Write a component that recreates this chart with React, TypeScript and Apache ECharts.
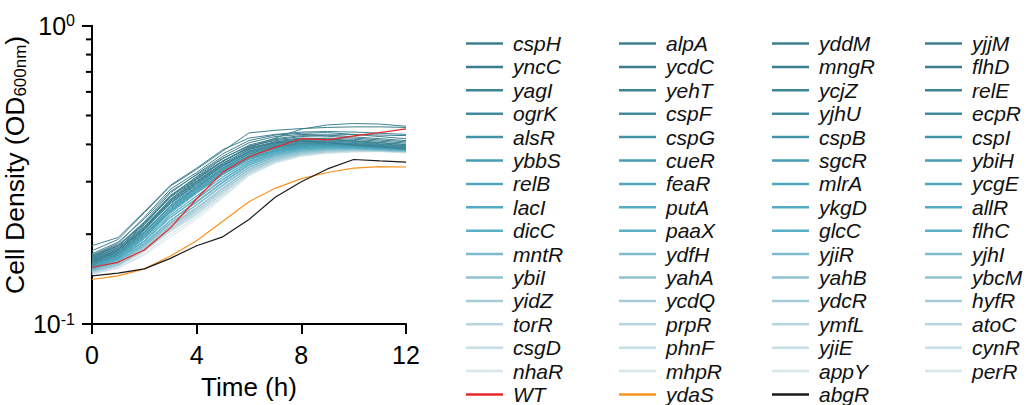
import React, { useEffect, useRef } from 'react';
import * as echarts from 'echarts';

const hours = [0, 1, 2, 3, 4, 5, 6, 7, 8, 9, 10, 11, 12];

const rowColors = [
  '#3e7f8e', '#3a7d8d', '#3d8596', '#408c9f', '#4494a8', '#489db2', '#4da6bc',
  '#50abc3', '#5cb0c6', '#7cbacc', '#90c2d1', '#a6ccd8', '#b8d6df', '#c8dee5', '#d7e6eb',
];

const col1Names = ['cspH', 'yncC', 'yagI', 'ogrK', 'alsR', 'ybbS', 'relB', 'lacI', 'dicC', 'mntR', 'ybiI', 'yidZ', 'torR', 'csgD', 'nhaR'];
const col2Names = ['alpA', 'ycdC', 'yehT', 'cspF', 'cspG', 'cueR', 'feaR', 'putA', 'paaX', 'ydfH', 'yahA', 'ycdQ', 'prpR', 'phnF', 'mhpR'];
const col3Names = ['yddM', 'mngR', 'ycjZ', 'yjhU', 'cspB', 'sgcR', 'mlrA', 'ykgD', 'glcC', 'yjiR', 'yahB', 'ydcR', 'ymfL', 'yjiE', 'appY'];
const col4Names = ['yjjM', 'flhD', 'relE', 'ecpR', 'cspI', 'ybiH', 'ycgE', 'allR', 'flhC', 'yjhI', 'ybcM', 'hyfR', 'atoC', 'cynR', 'perR'];

const col1Curves = [
  [0.170, 0.186, 0.228, 0.283, 0.322, 0.372, 0.412, 0.430, 0.436, 0.438, 0.432, 0.425, 0.418],
  [0.172, 0.188, 0.225, 0.278, 0.316, 0.360, 0.395, 0.412, 0.420, 0.418, 0.410, 0.402, 0.396],
  [0.183, 0.195, 0.238, 0.292, 0.333, 0.384, 0.420, 0.432, 0.440, 0.442, 0.440, 0.436, 0.432],
  [0.164, 0.178, 0.210, 0.258, 0.298, 0.342, 0.378, 0.398, 0.408, 0.410, 0.406, 0.400, 0.394],
  [0.161, 0.174, 0.204, 0.250, 0.290, 0.334, 0.372, 0.392, 0.402, 0.404, 0.400, 0.394, 0.388],
  [0.159, 0.171, 0.200, 0.245, 0.285, 0.328, 0.366, 0.387, 0.397, 0.400, 0.397, 0.392, 0.387],
  [0.158, 0.170, 0.198, 0.241, 0.280, 0.322, 0.361, 0.383, 0.394, 0.397, 0.395, 0.391, 0.386],
  [0.156, 0.168, 0.195, 0.237, 0.275, 0.317, 0.356, 0.379, 0.390, 0.393, 0.391, 0.387, 0.383],
  [0.155, 0.165, 0.189, 0.227, 0.263, 0.305, 0.347, 0.373, 0.387, 0.391, 0.390, 0.386, 0.382],
  [0.154, 0.163, 0.186, 0.222, 0.256, 0.298, 0.341, 0.368, 0.383, 0.388, 0.388, 0.385, 0.381],
  [0.153, 0.162, 0.183, 0.218, 0.250, 0.291, 0.335, 0.363, 0.379, 0.385, 0.386, 0.384, 0.380],
  [0.152, 0.160, 0.181, 0.214, 0.245, 0.285, 0.330, 0.359, 0.376, 0.382, 0.384, 0.382, 0.379],
  [0.151, 0.159, 0.179, 0.211, 0.240, 0.279, 0.326, 0.356, 0.373, 0.380, 0.382, 0.381, 0.378],
  [0.150, 0.158, 0.177, 0.207, 0.235, 0.274, 0.322, 0.353, 0.371, 0.378, 0.381, 0.380, 0.377],
  [0.149, 0.157, 0.175, 0.204, 0.231, 0.270, 0.318, 0.350, 0.369, 0.377, 0.380, 0.380, 0.376],
];
const col2Curves = [
  [0.176, 0.192, 0.236, 0.290, 0.330, 0.380, 0.437, 0.446, 0.452, 0.456, 0.458, 0.458, 0.456],
  [0.163, 0.178, 0.210, 0.262, 0.305, 0.350, 0.392, 0.415, 0.425, 0.430, 0.432, 0.430, 0.428],
  [0.166, 0.180, 0.212, 0.262, 0.302, 0.346, 0.384, 0.404, 0.414, 0.416, 0.412, 0.406, 0.400],
  [0.162, 0.176, 0.207, 0.254, 0.294, 0.338, 0.376, 0.396, 0.404, 0.405, 0.400, 0.395, 0.390],
  [0.166, 0.180, 0.212, 0.260, 0.300, 0.342, 0.380, 0.400, 0.410, 0.408, 0.402, 0.396, 0.390],
  [0.164, 0.177, 0.207, 0.253, 0.292, 0.334, 0.372, 0.392, 0.402, 0.403, 0.399, 0.394, 0.389],
  [0.162, 0.174, 0.203, 0.248, 0.287, 0.330, 0.368, 0.390, 0.400, 0.402, 0.399, 0.394, 0.389],
  [0.160, 0.172, 0.200, 0.243, 0.282, 0.324, 0.362, 0.384, 0.395, 0.398, 0.396, 0.391, 0.387],
  [0.158, 0.168, 0.193, 0.232, 0.268, 0.311, 0.352, 0.377, 0.390, 0.394, 0.392, 0.388, 0.384],
  [0.157, 0.166, 0.190, 0.227, 0.262, 0.303, 0.345, 0.371, 0.385, 0.390, 0.389, 0.386, 0.382],
  [0.156, 0.165, 0.187, 0.222, 0.255, 0.296, 0.339, 0.366, 0.381, 0.387, 0.387, 0.384, 0.380],
  [0.155, 0.164, 0.185, 0.219, 0.250, 0.290, 0.334, 0.362, 0.378, 0.385, 0.386, 0.384, 0.380],
  [0.154, 0.162, 0.183, 0.216, 0.246, 0.285, 0.330, 0.360, 0.376, 0.383, 0.384, 0.382, 0.379],
  [0.153, 0.161, 0.181, 0.212, 0.241, 0.280, 0.327, 0.358, 0.375, 0.382, 0.384, 0.382, 0.378],
  [0.152, 0.160, 0.179, 0.209, 0.237, 0.276, 0.324, 0.355, 0.373, 0.380, 0.383, 0.381, 0.377],
];
const col3Curves = [
  [0.165, 0.180, 0.215, 0.268, 0.312, 0.358, 0.398, 0.418, 0.428, 0.426, 0.420, 0.414, 0.408],
  [0.167, 0.182, 0.218, 0.270, 0.310, 0.352, 0.388, 0.405, 0.410, 0.406, 0.398, 0.392, 0.386],
  [0.160, 0.174, 0.206, 0.255, 0.296, 0.340, 0.380, 0.402, 0.412, 0.414, 0.410, 0.405, 0.399],
  [0.170, 0.184, 0.218, 0.268, 0.308, 0.352, 0.390, 0.408, 0.415, 0.413, 0.406, 0.398, 0.392],
  [0.157, 0.170, 0.198, 0.243, 0.283, 0.326, 0.366, 0.388, 0.398, 0.400, 0.398, 0.394, 0.390],
  [0.155, 0.167, 0.195, 0.238, 0.278, 0.320, 0.360, 0.382, 0.393, 0.396, 0.394, 0.390, 0.386],
  [0.154, 0.166, 0.193, 0.235, 0.274, 0.316, 0.356, 0.379, 0.391, 0.394, 0.393, 0.389, 0.385],
  [0.153, 0.164, 0.190, 0.231, 0.269, 0.311, 0.351, 0.375, 0.387, 0.391, 0.390, 0.387, 0.383],
  [0.152, 0.162, 0.185, 0.222, 0.257, 0.299, 0.342, 0.369, 0.383, 0.388, 0.388, 0.385, 0.381],
  [0.151, 0.160, 0.182, 0.217, 0.251, 0.292, 0.335, 0.364, 0.379, 0.385, 0.386, 0.384, 0.381],
  [0.150, 0.158, 0.179, 0.212, 0.244, 0.284, 0.329, 0.358, 0.375, 0.382, 0.384, 0.382, 0.379],
  [0.149, 0.157, 0.177, 0.208, 0.239, 0.279, 0.324, 0.354, 0.371, 0.379, 0.382, 0.381, 0.378],
  [0.148, 0.156, 0.175, 0.205, 0.234, 0.274, 0.320, 0.351, 0.369, 0.377, 0.380, 0.380, 0.377],
  [0.147, 0.154, 0.172, 0.200, 0.228, 0.268, 0.316, 0.348, 0.367, 0.375, 0.379, 0.379, 0.376],
  [0.147, 0.154, 0.170, 0.196, 0.224, 0.265, 0.314, 0.346, 0.365, 0.373, 0.377, 0.378, 0.375],
];
const col4Curves = [
  [0.168, 0.183, 0.220, 0.275, 0.318, 0.365, 0.405, 0.425, 0.432, 0.430, 0.424, 0.418, 0.412],
  [0.161, 0.176, 0.208, 0.258, 0.300, 0.345, 0.385, 0.408, 0.418, 0.420, 0.416, 0.410, 0.404],
  [0.169, 0.183, 0.216, 0.266, 0.306, 0.352, 0.392, 0.420, 0.450, 0.465, 0.470, 0.468, 0.460],
  [0.158, 0.172, 0.202, 0.248, 0.288, 0.332, 0.372, 0.394, 0.404, 0.406, 0.403, 0.398, 0.393],
  [0.163, 0.177, 0.208, 0.255, 0.295, 0.338, 0.376, 0.396, 0.405, 0.406, 0.402, 0.397, 0.392],
  [0.160, 0.173, 0.202, 0.247, 0.286, 0.329, 0.368, 0.389, 0.399, 0.401, 0.398, 0.393, 0.388],
  [0.157, 0.169, 0.197, 0.240, 0.279, 0.321, 0.360, 0.382, 0.393, 0.396, 0.394, 0.390, 0.385],
  [0.158, 0.170, 0.197, 0.239, 0.277, 0.319, 0.358, 0.381, 0.392, 0.395, 0.393, 0.389, 0.384],
  [0.156, 0.166, 0.190, 0.228, 0.264, 0.306, 0.348, 0.374, 0.388, 0.392, 0.391, 0.387, 0.383],
  [0.155, 0.164, 0.187, 0.223, 0.258, 0.299, 0.342, 0.369, 0.384, 0.389, 0.388, 0.385, 0.381],
  [0.154, 0.163, 0.184, 0.219, 0.251, 0.292, 0.336, 0.364, 0.380, 0.386, 0.386, 0.384, 0.380],
  [0.153, 0.161, 0.182, 0.215, 0.246, 0.286, 0.331, 0.360, 0.377, 0.383, 0.385, 0.383, 0.379],
  [0.152, 0.160, 0.180, 0.212, 0.242, 0.281, 0.327, 0.357, 0.374, 0.381, 0.383, 0.381, 0.378],
  [0.151, 0.159, 0.178, 0.208, 0.237, 0.276, 0.323, 0.354, 0.372, 0.379, 0.382, 0.381, 0.377],
  [0.150, 0.158, 0.176, 0.205, 0.233, 0.272, 0.320, 0.351, 0.370, 0.378, 0.381, 0.380, 0.376],
];

const wtCurve = [0.155, 0.161, 0.177, 0.210, 0.263, 0.323, 0.363, 0.391, 0.418, 0.414, 0.427, 0.438, 0.451];
const ydaSCurve = [0.141, 0.145, 0.153, 0.169, 0.190, 0.221, 0.257, 0.285, 0.307, 0.322, 0.333, 0.337, 0.336];
const abgRCurve = [0.145, 0.148, 0.153, 0.166, 0.183, 0.196, 0.224, 0.266, 0.300, 0.331, 0.356, 0.352, 0.349];

const specialNames = ['WT', 'ydaS', 'abgR'];
const specialColors = ['#e8262b', '#f7931e', '#1a1a1a'];
const minorTickValues = [0.2, 0.3, 0.4, 0.5, 0.6, 0.7, 0.8, 0.9];

const FONT = '"Liberation Sans", Arial, Helvetica, sans-serif';

export default function App() {
  const ref = useRef<HTMLDivElement>(null);
  useEffect(() => {
    if (!ref.current) return;
    const chart = echarts.init(ref.current, undefined, { renderer: 'svg' });
    const cols = [
      { names: col1Names, curves: col1Curves },
      { names: col2Names, curves: col2Curves },
      { names: col3Names, curves: col3Curves },
      { names: col4Names, curves: col4Curves },
    ];
    const series: any[] = [];
    for (let r = rowColors.length - 1; r >= 0; r--) {
      cols.forEach((c) => {
        const col = rowColors[r];
        series.push({
          name: c.names[r],
          type: 'line',
          data: hours.map((h, i) => [h, c.curves[r][i]]),
          symbol: 'none',
          color: col,
          lineStyle: { width: 1, color: col },
          silent: true,
        });
      });
    }
    const specialCurves = [wtCurve, ydaSCurve, abgRCurve];
    specialNames.forEach((n, k) => {
      series.push({
        name: n,
        type: 'line',
        data: hours.map((h, i) => [h, specialCurves[k][i]]),
        symbol: 'none',
        color: specialColors[k],
        lineStyle: { width: 1.2, color: specialColors[k] },
        silent: true,
        z: 5,
      });
    });
    const legendLefts = [466, 619, 772, 925];
    const legends = cols.map((c, i) => ({
      orient: 'vertical',
      left: legendLefts[i],
      top: 33,
      height: 400,
      padding: 0,
      itemWidth: 37,
      itemHeight: 2.5,
      itemGap: 2.4,
      icon: 'rect',
      selectedMode: false,
      textStyle: {
        fontSize: 21,
        fontStyle: 'italic',
        fontFamily: FONT,
        color: '#111',
        lineHeight: 20,
        padding: [0, 0, 0, 5],
      },
      data: i < 3 ? [...c.names, specialNames[i]] : c.names,
    }));

    chart.setOption({
      animation: false,
      backgroundColor: '#fff',
      grid: { left: 90.5, right: 624, top: 25.7, bottom: 70.3, containLabel: false },
      legend: legends,
      xAxis: {
        type: 'value',
        min: 0,
        max: 12,
        interval: 4,
        name: 'Time (h)',
        nameLocation: 'middle',
        nameGap: 50,
        nameTextStyle: { fontSize: 26, fontFamily: FONT, color: '#000' },
        axisLine: { show: true, lineStyle: { color: '#000', width: 2 } },
        axisTick: { show: true, length: 10, lineStyle: { color: '#000', width: 2 } },
        axisLabel: { fontSize: 25, fontFamily: FONT, color: '#000', margin: 18 },
        splitLine: { show: false },
      },
      yAxis: {
        type: 'log',
        logBase: 10,
        min: 0.1,
        max: 1,
        name: '{n|Cell Density (OD}{s|600nm}{n|)}',
        nameLocation: 'middle',
        nameRotate: 90,
        nameGap: 52,
        nameTextStyle: {
          padding: [0, 0, 0, 20],
          rich: {
            n: { fontSize: 26.5, fontFamily: FONT, color: '#000', lineHeight: 29 },
            s: { fontSize: 17, fontFamily: FONT, color: '#000', verticalAlign: 'bottom', lineHeight: 23 },
          },
        },
        axisLine: { show: true, lineStyle: { color: '#000', width: 2 } },
        axisTick: { show: true, length: 10, lineStyle: { color: '#000', width: 2 } },
        minorTick: { show: false },
        splitLine: { show: false },
        axisLabel: {
          margin: 17,
          formatter: (v: number) => (v >= 0.99 ? '{b|10}{s|0}' : '{b|10}{s|-1}'),
          rich: {
            b: { fontSize: 25, fontFamily: FONT, color: '#000', lineHeight: 26 },
            s: { fontSize: 16, fontFamily: FONT, color: '#000', verticalAlign: 'top', lineHeight: 18 },
          },
        },
      },
      series,
    });

    const x0 = chart.convertToPixel({ xAxisIndex: 0 }, 0) as number;
    const graphics = minorTickValues.map((v) => {
      const y = chart.convertToPixel({ yAxisIndex: 0 }, v) as number;
      return {
        type: 'line',
        shape: { x1: x0 - 6, y1: y, x2: x0, y2: y },
        style: { stroke: '#000', lineWidth: 2 },
        silent: true,
      };
    });
    chart.setOption({ graphic: graphics });

    return () => chart.dispose();
  }, []);
  return (
    <div
      ref={ref}
      style={{ position: 'fixed', left: 0, top: 0, width: 1030, height: 405, background: '#fff' }}
    />
  );
}
